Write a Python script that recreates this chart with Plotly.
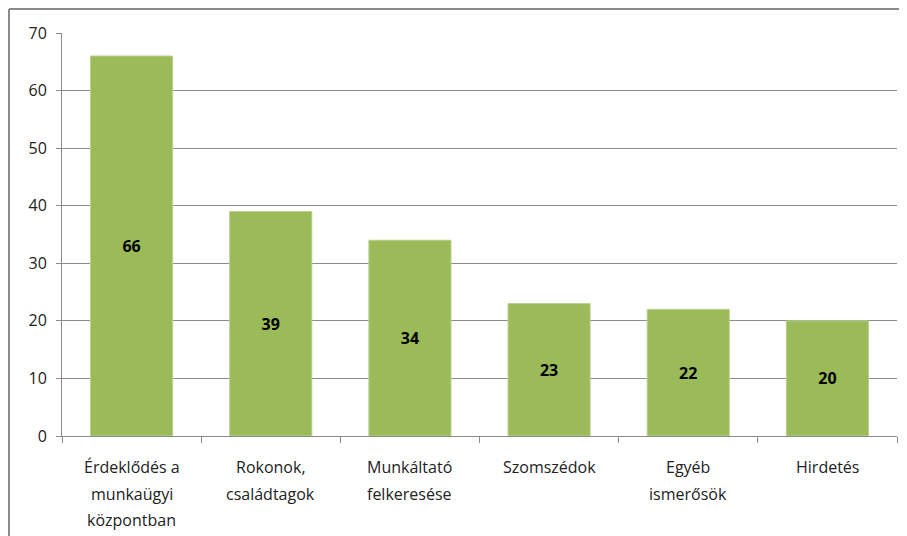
import plotly.graph_objects as go

categories = ["Érdeklődés a munkaügyi központban", "Rokonok, családtagok",
              "Munkáltató felkeresése", "Szomszédok", "Egyéb ismerősök", "Hirdetés"]
category_lines = [["Érdeklődés a", "munkaügyi", "központban"], ["Rokonok,", "családtagok"],
                  ["Munkáltató", "felkeresése"], ["Szomszédok"], ["Egyéb", "ismerősök"],
                  ["Hirdetés"]]
values = [66, 39, 34, 23, 22, 20]
y_ticks = [0, 10, 20, 30, 40, 50, 60, 70]

W, H = 907, 536
# page body has an 8px margin; plot area should sit at x 62..897, y 33..436 in the window
ml, mt = 54, 25
pw, ph = 835, 403
mr = W - ml - pw
mb = H - mt - ph

fig = go.Figure(go.Bar(
    x=categories, y=values, text=[str(v) for v in values],
    textposition="inside", insidetextanchor="middle",
    textfont=dict(family="Open Sans, DejaVu Sans", size=16, color="black", weight="bold"),
    marker=dict(color="#9BBB59", line=dict(color="#B9D08E", width=1)),
    width=0.59,
))

font = dict(family="Open Sans, Noto Sans, DejaVu Sans", size=16, color="#222")
fig.update_layout(
    width=W, height=H, margin=dict(l=ml, r=mr, t=mt, b=mb),
    plot_bgcolor="white", paper_bgcolor="white", showlegend=False,
    font=font,
    xaxis=dict(showline=True, linecolor="#8c8c8c", linewidth=1, ticks="outside",
               tickson="boundaries", ticklen=6, tickcolor="#8c8c8c",
               showticklabels=False, showgrid=False),
    yaxis=dict(range=[0, 70], tickvals=y_ticks, showline=True, linecolor="#8c8c8c",
               linewidth=1, ticks="outside", ticklen=5, tickcolor="#8c8c8c",
               showgrid=True, gridcolor="#8c8c8c", gridwidth=1, zeroline=False,
               tickfont=font, ticklabelstandoff=6),
    uniformtext=dict(mode="show", minsize=10),
)

# category labels, line by line (wider line spacing than plotly's <br>)
for cat, lines in zip(categories, category_lines):
    for i, line in enumerate(lines):
        fig.add_annotation(x=cat, xref="x", y=0, yref="paper", text=line,
                           showarrow=False, yanchor="middle", xanchor="center",
                           yshift=-(31 + 26.5 * i), font=font)

# outer chart border (top and left visible)
x_left = (1 - ml) / pw
y_top = 1 + (mt - 1) / ph
fig.add_shape(type="line", xref="paper", yref="paper", x0=x_left, x1=(W + 5 - ml) / pw,
              y0=y_top, y1=y_top, line=dict(color="#8a8a8a", width=2))
fig.add_shape(type="line", xref="paper", yref="paper", x0=x_left, x1=x_left,
              y0=y_top, y1=-(mb + 5) / ph, line=dict(color="#8a8a8a", width=2))

fig.write_html("out.html")
